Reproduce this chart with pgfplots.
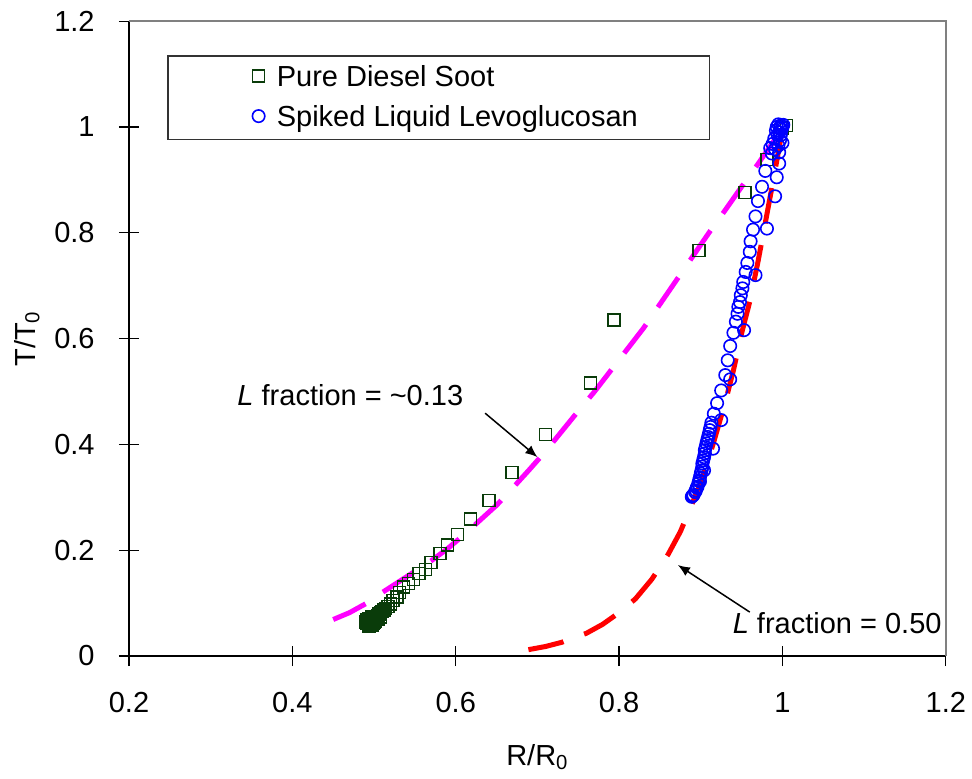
\documentclass[border=0pt]{standalone}
\usepackage{fontspec}
\setmainfont{Liberation Sans}
\usepackage{pgfplots}
\pgfplotsset{compat=1.18}
\usetikzlibrary{arrows.meta}
\definecolor{dgreen}{RGB}{10,60,10}
\definecolor{mag}{RGB}{255,0,255}
\definecolor{rd}{RGB}{255,0,0}
\definecolor{bl}{RGB}{0,0,255}
\newcommand{\fs}{\fontsize{14.5}{17}\selectfont}
\begin{document}
\begin{tikzpicture}
\begin{axis}[
  name=ax,
  scale only axis,
  width=408.4pt, height=317.4pt,
  xmin=0.2, xmax=1.2, ymin=0, ymax=1.2,
  axis lines*=left,
  axis line style={line width=0.75pt, black},
  xtick={0.2,0.4,0.6,0.8,1,1.2},
  ytick={0,0.2,0.4,0.6,0.8,1,1.2},
  tick align=center,
  major tick length=10pt,
  tick style={black, line width=0.6pt},
  /pgf/number format/assume math mode=true,
  tick label style={font=\fs},
  xticklabel style={anchor=north, inner sep=0pt, yshift=-13pt},
  yticklabel style={anchor=east, inner sep=0pt, xshift=-12pt},
  xlabel={R/R\textsubscript{0}},
  ylabel={T/T\textsubscript{0}},
  xlabel style={at={(axis description cs:0.5,-0.159)}, anchor=center, font=\fs},
  ylabel style={at={(axis description cs:-0.125,0.5)}, anchor=center, font=\fs},
  clip=false,
  legend style={draw=none, fill=none, at={(axis description cs:0.1506,0.882)}, anchor=west,
    inner sep=0pt, row sep=6pt, font=\fs,
    nodes={inner sep=0pt, text height=12.2pt, text depth=1.8pt},
    /tikz/every odd column/.append style={column sep=6pt}},
  legend cell align=left,
  legend image code/.code={\draw[#1] plot coordinates {(0pt,0pt)};},
]
% legend frame
\draw[black!80, line width=0.7pt] (axis description cs:0.0477,0.945) rectangle (axis description cs:0.711,0.814);
% top / right frame
\draw[gray, line width=0.75pt] (rel axis cs:0,1) -- (rel axis cs:1,1) -- (rel axis cs:1,0);

% L fraction ~0.13 curve
\addplot[mag, line width=2.5pt, dash pattern=on 18pt off 10.5pt, forget plot] coordinates {
(0.450,0.069)(0.47,0.082)(0.49,0.099)(0.51,0.120)(0.53,0.140)(0.55,0.160)(0.57,0.180)
(0.59,0.203)(0.61,0.229)(0.63,0.257)(0.65,0.285)(0.67,0.318)(0.69,0.352)(0.71,0.387)
(0.73,0.425)(0.75,0.463)(0.77,0.500)(0.79,0.540)(0.81,0.580)(0.83,0.620)(0.85,0.665)
(0.87,0.710)(0.89,0.755)(0.91,0.800)(0.93,0.843)(0.95,0.887)(0.97,0.930)(0.99,0.975)
};
% L fraction 0.50 curve
\addplot[rd, line width=2.5pt, dash pattern=on 18pt off 11pt, forget plot] coordinates {
(0.689,0.012)(0.71,0.018)(0.73,0.026)(0.76,0.043)(0.78,0.060)(0.80,0.082)(0.82,0.108)
(0.84,0.145)(0.86,0.192)(0.875,0.235)(0.89,0.290)(0.90,0.328)(0.915,0.400)(0.93,0.480)
(0.94,0.540)(0.95,0.610)(0.96,0.670)(0.97,0.745)(0.98,0.827)(0.99,0.910)(0.997,0.970)(1.0,1.0)
};

% Pure Diesel Soot
\addplot[only marks, mark=square, mark size=3pt, dgreen, line width=0.75pt] coordinates {
(1.005,1.003)(1.000,0.998)(0.981,0.939)(0.954,0.876)(0.898,0.767)(0.794,0.635)(0.765,0.516)
(0.710,0.419)(0.669,0.347)(0.641,0.294)(0.618,0.259)(0.602,0.230)(0.590,0.210)(0.581,0.194)
(0.570,0.177)(0.563,0.164)(0.555,0.156)(0.548,0.145)(0.542,0.137)(0.536,0.130)(0.531,0.120)
(0.528,0.112)(0.523,0.105)(0.520,0.098)(0.517,0.094)(0.514,0.090)(0.512,0.087)(0.510,0.084)
(0.508,0.081)(0.506,0.079)(0.504,0.077)(0.502,0.075)(0.500,0.073)(0.499,0.071)(0.497,0.069)
(0.496,0.067)(0.495,0.066)(0.494,0.064)(0.493,0.063)(0.492,0.062)(0.491,0.061)(0.493,0.059)
(0.496,0.060)(0.499,0.062)(0.502,0.066)(0.498,0.058)(0.494,0.057)(0.505,0.070)(0.508,0.074)
(0.490,0.064)(0.491,0.068)(0.493,0.071)(0.497,0.074)(0.500,0.064)(0.503,0.071)(0.495,0.062)
};
\addlegendentry{Pure Diesel Soot}

% Spiked Liquid Levoglucosan
\addplot[only marks, mark=o, mark size=3.1pt, bl, line width=0.8pt] coordinates {
(0.995,1.005)(0.998,1.003)(1.000,1.000)(0.997,0.998)(0.993,1.000)(0.999,0.995)(0.996,0.990)
(0.992,0.993)(1.001,1.004)(0.994,0.985)(0.998,0.985)(0.990,0.978)(0.997,0.975)(0.988,0.968)
(0.995,0.965)(1.000,0.970)(0.991,0.958)(0.985,0.960)(0.996,0.952)(0.987,0.950)
(0.996,0.931)(0.979,0.917)(0.993,0.905)(0.975,0.887)(0.991,0.869)(0.970,0.860)(0.967,0.831)
(0.981,0.808)(0.964,0.806)(0.961,0.784)(0.960,0.764)(0.957,0.743)(0.955,0.726)(0.967,0.720)
(0.952,0.707)(0.951,0.695)(0.949,0.682)(0.948,0.669)(0.946,0.660)(0.945,0.647)(0.943,0.632)
(0.953,0.616)(0.940,0.611)(0.936,0.586)(0.933,0.559)(0.930,0.531)(0.936,0.523)(0.925,0.502)
(0.920,0.478)(0.916,0.458)(0.925,0.446)(0.913,0.441)(0.911,0.427)(0.915,0.392)(0.909,0.414)
(0.907,0.402)(0.905,0.389)(0.904,0.376)(0.902,0.364)(0.904,0.351)(0.901,0.351)(0.899,0.338)
(0.897,0.326)(0.894,0.313)(0.891,0.304)(0.889,0.301)
(0.910,0.420)(0.906,0.395)(0.903,0.370)(0.900,0.345)(0.898,0.332)(0.896,0.320)(0.893,0.310)
(0.890,0.303)(0.908,0.408)(0.912,0.433)(0.902,0.358)(0.899,0.330)(0.895,0.318)(0.905,0.383)
};
\addlegendentry{Spiked Liquid Levoglucosan}

% annotations
\node[font=\fs] at (axis cs:0.471,0.493) {\textit{L} fraction = \textasciitilde0.13};
\draw[line width=0.75pt, -{Latex[length=6pt,width=5pt]}] (axis cs:0.636,0.459) -- (axis cs:0.700,0.376);
\node[font=\fs] at (axis cs:1.067,0.062) {\textit{L} fraction = 0.50};
\draw[line width=0.75pt, -{Latex[length=6pt,width=5pt]}] (axis cs:0.960,0.083) -- (axis cs:0.872,0.172);
\end{axis}
\pgfresetboundingbox
\path[use as bounding box] (ax.south west) ++(-64.5pt,-61pt) rectangle ++(486pt,389pt);
\end{tikzpicture}
\end{document}
